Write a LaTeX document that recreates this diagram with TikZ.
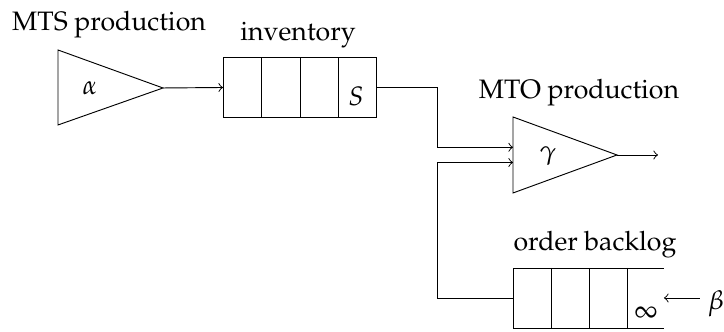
\documentclass[tikz,border=0pt]{standalone}
\usepackage[T1]{fontenc}
\usepackage{mathpazo}
\usetikzlibrary{calc}
\begin{document}
\begin{tikzpicture}[x=0.375pt,y=-0.375pt,line width=0.35pt,
  lbl/.style={inner sep=0pt},
  queue/.style={draw,inner sep=0pt,minimum width=57.4pt,minimum height=22.5pt},
  flow/.style={->}]
\useasboundingbox (0,0) rectangle (724,332);
% MTS production
\coordinate (t1a) at (58,50);
\coordinate (t1b) at (58,125);
\coordinate (t1tip) at (163,88);
\draw (t1a) -- (t1tip) -- (t1b) -- cycle;
\node[lbl] (alpha) at (90,88) {$\alpha$};
\node (mts) at (109,25) {MTS production};
% inventory
\node[queue] (inv) at (300,87.5) {};
\foreach \f in {0.25,0.5,0.75}
  \draw ($(inv.south west)!\f!(inv.south east)$) -- ($(inv.north west)!\f!(inv.north east)$);
\node[lbl] (S) at (356,96) {$S$};
\node (invlbl) at (298,35) {inventory};
\draw[flow] (t1tip) -- (inv.west);
% MTO production
\coordinate (t2a) at (513,117);
\coordinate (t2b) at (513,193);
\coordinate (t2tip) at (617,155);
\coordinate (in1) at (513,147.3);
\coordinate (in2) at (513,162.5);
\coordinate (out) at (658,155);
\draw (t2a) -- (t2tip) -- (t2b) -- cycle;
\node[lbl] (gamma) at (548,156) {$\gamma$};
\node (mto) at (579,93) {MTO production};
\draw[flow] (t2tip) -- (out);
\coordinate (j1) at (437,147.3);
\coordinate (j2) at (437,162.5);
\draw[flow] (inv.east) -| (j1) -- (in1);
% order backlog
\coordinate (bl) at (513,268);
\coordinate (bb) at (513,328);
\coordinate (br) at (664,268);
\coordinate (bbr) at (664,328);
\draw (br) -- (bl) -- (bb) -- (bbr);
\foreach \x in {551,589,627}
  \draw (\x,268) -- (\x,328);
\coordinate (bw) at (513,298);
\draw[flow] (bw) -| (j2) -- (in2);
\node[lbl] (inf) at (646,313) {$\infty$};
\node (oblbl) at (595,245) {order backlog};
\node[lbl] (beta) at (716,304) {$\beta$};
\coordinate (bin) at (664,298);
\coordinate (bstart) at (700,298);
\draw[flow] (bstart) -- (bin);
\end{tikzpicture}
\end{document}
